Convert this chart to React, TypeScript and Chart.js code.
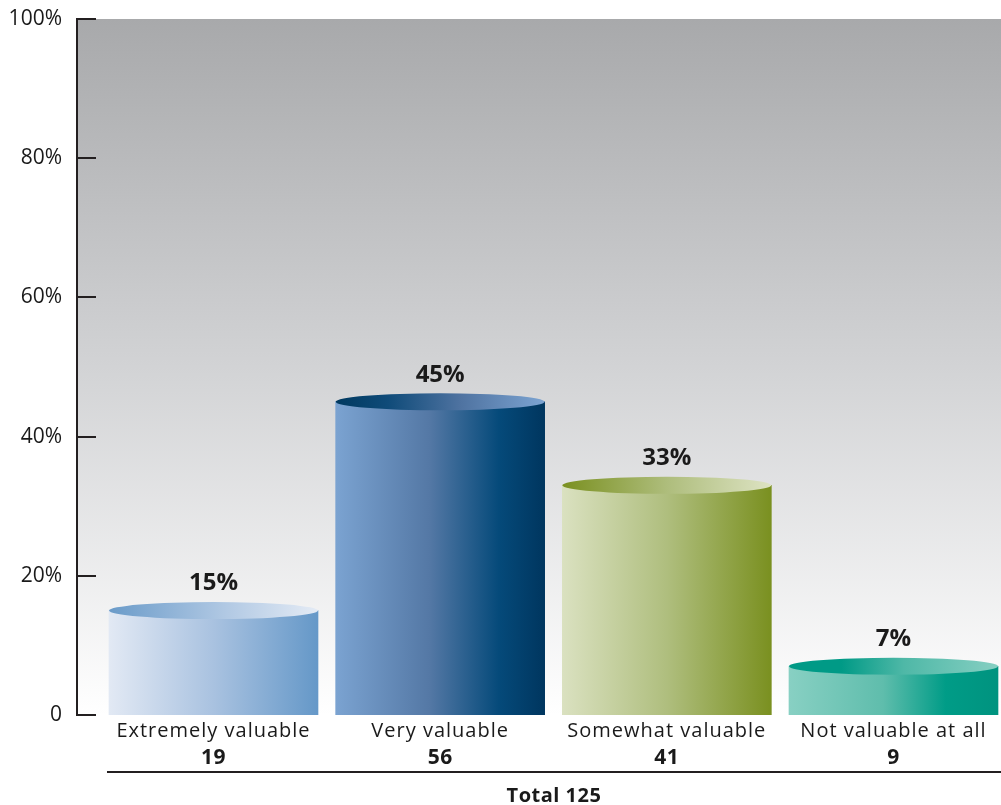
import React, { useEffect, useRef } from "react";
import { Chart, registerables } from "chart.js";

Chart.register(...registerables);

const categories = ["Extremely valuable", "Very valuable", "Somewhat valuable", "Not valuable at all"];
const counts = [19, 56, 41, 9];
const percentValues = [15, 45, 33, 7];
const totalLabel = "Total 125";
const yTickValues = [0, 20, 40, 60, 80, 100];

// styles (gradient stops for cylinder bodies and caps)
const bodyStops: [number, string][][] = [
  [[0, "#e2e9f4"], [0.5, "#a9c2e0"], [1, "#6598c8"]],
  [[0, "#7ba3d1"], [0.45, "#5478a5"], [0.78, "#054a7a"], [1, "#00365f"]],
  [[0, "#dae1c0"], [0.5, "#afbe7e"], [1, "#7a9020"]],
  [[0, "#88d0c3"], [0.45, "#5fbdac"], [0.75, "#009c87"], [1, "#00937f"]],
];
const capStops: [number, string][][] = [
  [[0, "#6a9bc9"], [0.55, "#b0c8e3"], [1, "#e4ebf5"]],
  [[0, "#00395f"], [0.25, "#0f4b79"], [0.6, "#4f73a1"], [1, "#7ca4d2"]],
  [[0, "#7a9020"], [0.5, "#aebd7c"], [1, "#dde3c3"]],
  [[0, "#009a86"], [0.25, "#009a86"], [0.55, "#4fb8a7"], [1, "#86cfc2"]],
];

const FONT = "'Open Sans', sans-serif";
const TEXT = "#1a1a1a";

export default function App() {
  const ref = useRef<HTMLCanvasElement | null>(null);

  useEffect(() => {
    const canvas = ref.current;
    if (!canvas) return;
    const barThickness = 209;
    const capRy = 8.5;

    const makeGrad = (ctx: CanvasRenderingContext2D, x0: number, x1: number, stops: [number, string][]) => {
      const g = ctx.createLinearGradient(x0, 0, x1, 0);
      stops.forEach(([o, c]) => g.addColorStop(o, c));
      return g;
    };

    const cylinderPlugin = {
      id: "cylinder",
      beforeDraw(chart: any) {
        const { ctx, chartArea } = chart;
        ctx.save();
        const g = ctx.createLinearGradient(0, chartArea.top, 0, chartArea.bottom);
        g.addColorStop(0, "#a8a9ab");
        g.addColorStop(0.5, "#d2d3d5");
        g.addColorStop(1, "#ffffff");
        ctx.fillStyle = g;
        ctx.fillRect(chartArea.left, chartArea.top, chartArea.right - chartArea.left, chartArea.bottom - chartArea.top);
        ctx.restore();
      },
      afterDatasetsDraw(chart: any) {
        const { ctx } = chart;
        const meta = chart.getDatasetMeta(0);
        const yScale = chart.scales.y;
        ctx.save();
        meta.data.forEach((bar: any, i: number) => {
          const w = bar.width;
          const left = bar.x - w / 2;
          ctx.beginPath();
          ctx.ellipse(bar.x, bar.y, w / 2, capRy, 0, 0, Math.PI * 2);
          ctx.fillStyle = makeGrad(ctx, left, left + w, capStops[i]);
          ctx.fill();
          // value label
          ctx.fillStyle = TEXT;
          ctx.textAlign = "center";
          ctx.textBaseline = "middle";
          (ctx as any).letterSpacing = "0px";
          ctx.font = `bold 24px ${FONT}`;
          ctx.fillText(percentValues[i] + "%", bar.x, bar.y - 27);
          // category labels
          (ctx as any).letterSpacing = "1px";
          ctx.font = `20px ${FONT}`;
          ctx.fillText(categories[i], bar.x, yScale.bottom + 16);
          (ctx as any).letterSpacing = "0.5px";
          ctx.font = `bold 21px ${FONT}`;
          ctx.fillText(String(counts[i]), bar.x, yScale.bottom + 43);
        });
        // inward ticks
        ctx.strokeStyle = "#231f20";
        ctx.lineWidth = 2;
        yTickValues.forEach((v) => {
          const y = Math.round(yScale.getPixelForValue(v));
          ctx.beginPath();
          ctx.moveTo(chart.chartArea.left, y);
          ctx.lineTo(chart.chartArea.left + 19, y);
          ctx.stroke();
        });
        // total line
        const first = meta.data[0];
        const lineLeft = first.x - first.width / 2 - 2;
        const lineY = yScale.bottom + 57;
        ctx.beginPath();
        ctx.moveTo(lineLeft, lineY);
        ctx.lineTo(chart.width, lineY);
        ctx.stroke();
        (ctx as any).letterSpacing = "0.5px";
        ctx.font = `bold 20px ${FONT}`;
        ctx.fillStyle = TEXT;
        ctx.textAlign = "center";
        ctx.textBaseline = "middle";
        ctx.fillText(totalLabel, (lineLeft + chart.width) / 2, lineY + 24);
        ctx.restore();
      },
    };

    const chart = new Chart(canvas, {
      type: "bar",
      data: {
        datasets: [
          {
            data: percentValues.map((v, i) => ({ x: i, y: v })),
            barThickness,
            borderWidth: 0,
            backgroundColor: (c: any) => {
              const ch = c.chart;
              const xs = ch.scales && ch.scales.x;
              if (!xs || !ch.chartArea) return "#888";
              const cx = xs.getPixelForValue(c.dataIndex);
              return makeGrad(ch.ctx, cx - barThickness / 2, cx + barThickness / 2, bodyStops[c.dataIndex]);
            },
          },
        ],
      },
      plugins: [cylinderPlugin],
      options: {
        animation: false,
        responsive: false,
        maintainAspectRatio: false,
        layout: { padding: { top: 19, right: 0, bottom: 90, left: 0 } },
        plugins: { legend: { display: false }, tooltip: { enabled: false } },
        scales: {
          x: {
            type: "linear",
            display: false,
            offset: false,
            min: -0.6022,
            max: 3.4743,
          },
          y: {
            min: 0,
            max: 100,
            afterFit: (s: any) => {
              s.width = 77;
              s.paddingTop = 0;
              s.paddingBottom = 0;
            },
            afterBuildTicks: (s: any) => {
              s.ticks = yTickValues.map((v) => ({ value: v }));
            },
            grid: { display: false, drawTicks: false },
            border: { display: true, color: "#231f20", width: 2 },
            ticks: {
              padding: 15,
              color: TEXT,
              font: { family: FONT, size: 21 },
              callback: (v: any) => (v === 0 ? "0" : v + "%"),
            },
          },
        },
      },
    } as any);
    return () => chart.destroy();
  }, []);

  return (
    <div style={{ position: "fixed", left: 0, top: 0, width: 1001, height: 805, background: "#fff" }}>
      <canvas ref={ref} width={1001} height={805} style={{ width: 1001, height: 805, display: "block" }} />
    </div>
  );
}
